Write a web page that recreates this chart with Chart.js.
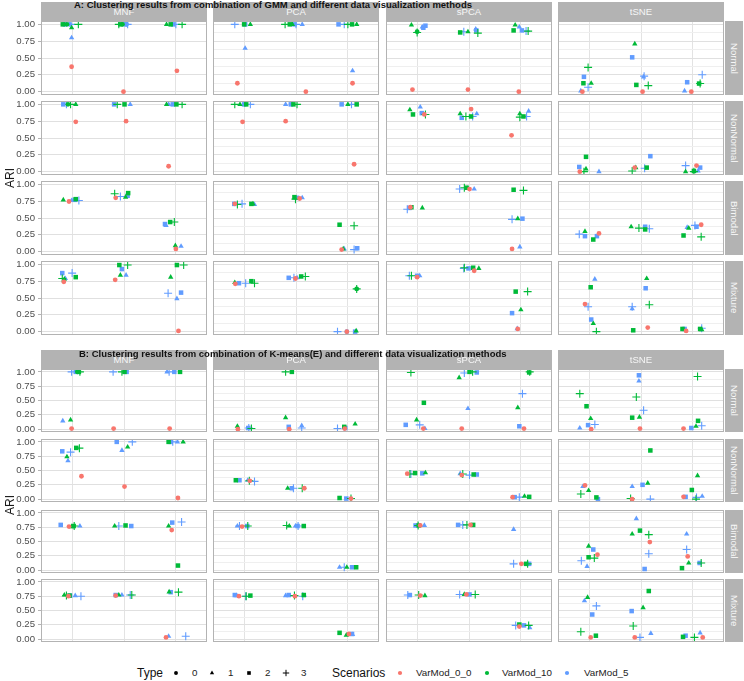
<!DOCTYPE html>
<html>
<head>
<meta charset="utf-8">
<script src="https://cdn.jsdelivr.net/npm/chart.js@4.4.1/dist/chart.umd.min.js"></script>
<style>
  body { margin: 0; background: #fff; font-family: "Liberation Sans", Arial, sans-serif; }
  #wrap { position: relative; width: 744px; height: 681px; overflow: hidden; background: #fff; }
  #wrap canvas { position: absolute; }
  .strip { position: absolute; background: #b3b3b3; color: #f7f7f7; font-size: 9.6px;
           display: flex; align-items: center; justify-content: center; }
  .vstrip { writing-mode: vertical-rl; }
  .txt { position: absolute; white-space: nowrap; line-height: 1; }
</style>
</head>
<body>
<div id="wrap"></div>
<script>
// facets, categories and legend entries
const methods = ["MNF", "PCA", "sPCA", "tSNE"];
const distributions = ["Normal", "NonNormal", "Bimodal", "Mixture"];
const scenarios = ["VarMod_0_0", "VarMod_10", "VarMod_5"];
const types = ["0", "1", "2", "3"];
const xCats = [1, 2, 3];
const yGrid = [0, 0.125, 0.25, 0.375, 0.5, 0.625, 0.75, 0.875, 1];
const yLabels = ["0.00", "0.25", "0.50", "0.75", "1.00"];
const titleA = "A: Clustering results from combination of GMM and different data visualization methods";
const titleB = "B: Clustering results from combination of K-means(E) and different data visualization methods";

// points: [x (jittered category), ARI, type index, scenario index]
const gmmNormal = {
  MNF: [[0.82,1,2,1],[0.86,1,2,2],[0.9,1,0,1],[0.95,1,0,2],[0.98,1,3,2],[0.99,0.95,1,1],[1.12,1,3,1],[0.99,0.80,1,2],[0.99,0.37,0,0],
        [1.9,1,3,1],[1.93,1,2,1],[1.97,1,0,1],[2.03,1,2,2],[2.0,1,1,2],[2.05,1,0,2],[2.07,1,3,2],[1.99,0,0,0],
        [2.82,1,1,1],[2.9,1,2,1],[2.95,1,2,2],[3.0,1,3,2],[3.12,1,3,1],[3.02,0.31,0,0]],
  PCA: [[0.82,1,3,2],[1.0,1,2,1],[1.02,1,2,2],[1.12,1,1,1],[1.02,0.645,1,2],[0.87,0.125,0,0],
        [1.79,1,3,1],[1.88,1,2,1],[1.93,1,1,1],[1.97,1,2,2],[2.0,1,3,2],[2.12,1,1,2],[2.19,0,0,0],
        [2.82,1,2,2],[2.93,1,3,2],[3.0,1,3,1],[3.08,1,2,1],[3.17,1,1,1],[3.09,0.31,1,2],[3.09,0.125,0,0]],
  sPCA: [[0.89,0.99,1,1],[1.0,0.89,0,1],[1.0,0.88,3,1],[1.1,0.96,1,2],[1.12,0.95,2,2],[1.16,0.98,2,2],[0.91,0.03,0,0],
         [1.83,0.88,2,1],[1.9,0.89,3,2],[1.98,0.89,1,1],[2.13,0.93,1,2],[2.14,0.91,2,2],[2.17,0.87,3,1],[1.98,0.03,0,0],
         [2.86,0.91,2,1],[2.89,0.99,1,1],[2.97,0.96,1,2],[3.02,0.91,2,2],[3.1,0.9,3,2],[3.14,0.90,3,1],[2.96,0,0,0]],
  tSNE: [[0.98,0.36,3,1],[0.9,0.22,2,2],[0.89,0.125,2,1],[1.04,0.125,1,1],[0.98,0.065,3,2],[0.84,0.01,1,2],[0.87,0,0,0],
         [1.88,0.71,1,1],[1.83,0.51,2,2],[2.05,0.22,1,2],[2.06,0.23,3,2],[1.91,0.10,2,1],[2.14,0.09,3,1],[2.03,0,0,0],
         [3.18,0.25,3,2],[2.89,0.14,2,2],[3.12,0.12,2,1],[3.14,0.12,3,1],[2.84,0.01,1,2],[2.97,0,0,0]]
};
const gmmNonNormal = {
  MNF: [[0.83,1,2,2],[0.89,1,3,2],[0.92,1,0,1],[0.97,1,3,1],[1.07,1,1,1],[1.07,0.74,0,0],
        [1.81,1,2,2],[1.87,1,3,1],[2.01,1,2,1],[2.12,1,1,2],[2.04,0.75,0,0],
        [2.82,1,1,1],[2.86,1,1,2],[2.94,1,2,2],[3.01,1,2,1],[3.12,1,3,1],[2.86,0.08,0,0]],
  PCA: [[0.82,1,3,1],[0.92,1,1,1],[1.0,1,2,2],[1.04,1,2,1],[1.12,1,3,2],[0.97,0.74,0,0],
        [1.8,1,1,2],[1.9,1,2,2],[1.95,1,2,1],[2.02,1,3,1],[1.8,0.75,0,0],
        [2.88,1,2,2],[3.0,1,1,1],[3.07,1,3,2],[3.17,1,2,1],[3.12,0.11,0,0]],
  sPCA: [[0.86,0.92,1,1],[0.92,0.85,2,1],[1.06,0.96,1,2],[1.09,0.87,2,2],[1.14,0.85,0,0],[1.16,0.85,3,1],
         [1.83,0.86,1,1],[1.86,0.80,2,2],[1.94,0.82,3,1],[2.04,0.82,2,1],[2.07,0.82,3,2],[2.15,0.86,1,2],[2.04,0.93,0,0],
         [2.98,0.86,1,1],[2.98,0.81,3,1],[3.05,0.82,2,1],[3.11,0.82,3,2],[3.15,0.90,1,2],[2.82,0.54,0,0]],
  tSNE: [[0.94,0.22,2,1],[0.81,0.07,2,2],[0.94,0.04,1,1],[0.82,0,0,0],[0.9,0,3,1],[1.19,0,1,2],
         [2.18,0.23,2,2],[1.88,0.06,0,0],[1.9,0.06,1,1],[2.11,0.06,2,1],[2.07,0.05,3,2],[1.83,0.01,3,1],
         [2.86,0.09,3,2],[3.07,0.09,0,0],[3.14,0.06,2,2],[2.86,0,1,1],[3.02,0.01,2,1],[3.02,0,3,1],[3.1,0.01,1,2]]
};
const gmmBimodal = {
  MNF: [[0.83,0.77,1,1],[0.94,0.745,0,0],[0.99,0.76,1,2],[1.05,0.77,2,2],[1.07,0.78,2,1],[1.13,0.76,3,2],
        [1.82,0.86,3,1],[1.84,0.80,0,0],[1.93,0.82,3,2],[2.03,0.81,1,1],[2.07,0.83,2,2],[2.08,0.87,2,1],
        [2.79,0.41,2,2],[2.81,0.39,1,2],[2.89,0.44,2,1],[2.97,0.44,3,1],[2.99,0.09,1,1],[3.0,0.04,0,0],[3.10,0.08,1,2]],
  PCA: [[0.81,0.71,2,2],[0.82,0.71,0,0],[0.87,0.70,3,1],[0.96,0.71,3,2],[1.14,0.71,2,1],[1.17,0.71,1,1],[1.2,0.70,1,2],
        [1.97,0.81,2,1],[1.99,0.78,3,1],[2.02,0.80,2,2],[2.07,0.79,0,0],[2.12,0.80,1,2],
        [2.84,0.40,2,1],[3.12,0.385,3,1],[2.88,0.03,0,0],[2.91,0.04,1,1],[2.93,0.04,1,2],[3.12,0.03,3,2],[3.18,0.05,2,2]],
  sPCA: [[0.81,0.63,3,2],[0.85,0.65,2,2],[0.87,0.66,0,0],[0.89,0.66,2,1],[1.1,0.65,1,1],
         [1.82,0.93,3,2],[1.91,0.95,3,1],[1.95,0.95,2,1],[1.98,0.94,1,1],[2.01,0.93,0,0],[2.1,0.93,1,2],
         [2.86,0.92,2,1],[3.05,0.91,3,1],[2.83,0.48,3,2],[2.94,0.49,1,1],[3.03,0.49,2,2],[2.83,0.04,0,0],[2.98,0.07,1,2]],
  tSNE: [[0.81,0.26,3,2],[0.92,0.30,1,1],[0.92,0.23,2,2],[1.08,0.18,2,1],[1.15,0.23,2,2],[1.19,0.27,0,0],
         [1.81,0.37,1,1],[1.96,0.35,3,1],[2.08,0.37,2,2],[2.08,0.33,2,1],[2.16,0.34,3,2],
         [2.89,0.36,1,2],[2.92,0.35,1,1],[3.04,0.39,3,2],[3.07,0.37,2,2],[3.16,0.40,0,0],[2.82,0.24,2,1],[3.16,0.22,3,1]]
};
const gmmMixture = {
  MNF: [[0.81,0.87,2,2],[1.0,0.87,3,2],[0.81,0.79,3,1],[0.85,0.78,1,1],[0.87,0.79,1,2],[0.84,0.74,0,0],[1.07,0.81,2,1],
        [1.91,0.99,2,1],[2.07,0.99,3,1],[1.96,0.93,2,2],[1.93,0.84,1,1],[2.04,0.84,1,2],[1.83,0.77,0,0],
        [3.02,0.99,2,1],[3.15,0.99,3,1],[2.9,0.81,1,1],[2.85,0.57,3,2],[3.1,0.58,2,2],[3.02,0.49,1,2],[3.05,0.01,0,0]],
  PCA: [[0.82,0.73,1,1],[0.83,0.71,0,0],[0.9,0.72,2,2],[1.03,0.72,3,2],[1.14,0.75,2,1],[1.2,0.72,3,1],
        [1.86,0.80,2,2],[1.96,0.80,3,2],[1.99,0.79,0,0],[2.02,0.80,1,2],[2.1,0.82,2,1],[2.18,0.82,3,1],
        [3.17,0.635,0,1],[3.17,0.635,3,1],[2.8,0,3,2],[2.98,0,0,2],[2.98,0,0,0],[3.14,0,2,2],[3.16,0.01,1,1]],
  sPCA: [[0.85,0.83,3,2],[0.89,0.83,3,1],[1.0,0.83,2,2],[1.0,0.81,0,0],[1.05,0.83,1,2],
         [1.9,0.94,3,2],[1.91,0.95,3,1],[1.99,0.94,2,2],[2.08,0.95,2,1],[2.19,0.94,1,1],[2.1,0.905,0,0],
         [2.9,0.595,2,1],[3.13,0.595,3,1],[3.0,0.325,1,1],[2.83,0.275,2,2],[2.94,0.04,0,0],[2.93,0.045,1,2]],
  tSNE: [[1.11,0.78,1,2],[1.03,0.66,2,1],[0.92,0.41,0,0],[0.98,0.37,3,2],[1.04,0.18,2,2],[1.08,0.12,1,1],[1.14,0,3,1],
         [2.11,0.79,1,1],[2.09,0.645,2,2],[2.16,0.40,3,1],[1.83,0.37,3,2],[1.83,0.34,1,2],[2.13,0.06,0,0],[1.85,0.02,2,1],
         [2.8,0.04,2,1],[2.84,0.04,2,2],[2.87,0.01,0,0],[3.14,0.04,2,1],[3.17,0.05,3,2],[3.17,0.03,1,1]]
};
const kmNormal = {
  MNF: [[0.99,1,3,2],[1.07,1,2,2],[1.1,1,0,1],[1.13,1,2,1],[1.15,1,3,1],[0.82,0.145,1,2],[0.97,0.16,1,1],[0.99,0.01,0,0],
        [1.79,1,3,2],[1.96,1,3,1],[2.01,1,2,1],[2.05,1,2,2],[1.8,0.01,0,0],
        [2.83,1,1,2],[2.87,1,3,2],[2.97,1,2,2],[3.08,1,2,1],[2.88,0.01,0,0]],
  PCA: [[0.87,0.05,1,1],[0.88,0,0,0],[1.08,0.02,2,2],[1.09,0.02,3,2],[1.14,0.01,3,1],
        [1.8,1,3,1],[1.92,1,2,1],[1.8,0.20,1,1],[1.86,0.04,2,2],[1.87,0,0,0],[2.11,0.06,1,2],[2.11,0.02,3,2],
        [2.8,0.01,3,2],[2.93,0.04,2,1],[2.95,0.02,2,2],[2.94,0.01,0,0],[3.14,0.09,1,1]],
  sPCA: [[0.88,0.99,3,1],[1.13,0.46,2,1],[0.99,0.16,1,1],[0.78,0.075,2,2],[1.05,0.075,3,2],[1.12,0.01,0,0],[1.15,0.01,1,2],
         [1.81,0.90,1,1],[1.91,0.98,3,2],[2.01,1,2,1],[2.07,1,3,1],[2.15,0.99,2,2],[1.98,0.36,1,2],[1.86,0.01,0,0],
         [3.16,0.99,2,1],[3.17,1,3,1],[3.03,0.62,3,2],[2.94,0.375,1,1],[2.97,0.05,2,2],[3.06,0.01,0,0]],
  tSNE: [[0.82,0.62,3,1],[0.95,0.40,2,1],[1.03,0.185,1,1],[1.11,0.08,3,2],[0.98,0.07,2,2],[0.82,0.02,1,2],[1.04,0,0,0],
         [1.96,0.94,2,2],[1.96,0.84,1,2],[1.91,0.56,3,1],[2.05,0.33,3,2],[1.83,0.20,2,1],[1.97,0.21,1,1],[1.98,0.01,0,0],
         [3.09,0.92,3,1],[3.1,0.145,2,1],[3.17,0.06,3,2],[3.06,0.05,1,1],[2.97,0.02,2,2],[2.82,0.01,0,0]]
};
const kmNonNormal = {
  MNF: [[0.81,0.835,2,2],[0.97,0.82,3,2],[1.08,0.895,2,1],[1.14,0.89,3,1],[0.9,0.74,1,1],[0.92,0.67,1,2],[1.18,0.40,0,0],
        [1.86,1,2,2],[2.16,1,3,2],[1.96,0.85,1,2],[2.07,0.91,1,1],[2.01,0.22,0,0],
        [2.86,1,2,1],[2.9,1,2,2],[2.94,1,3,2],[3.03,1,1,2],[3.14,1,1,1],[3.04,0.02,0,0]],
  PCA: [[0.84,0.33,2,1],[0.91,0.33,2,2],[1.07,0.33,1,2],[1.1,0.32,3,1],[1.11,0.32,0,0],[1.2,0.31,3,2],
        [1.84,0.19,1,1],[1.92,0.19,2,2],[1.95,0.19,3,2],[2.12,0.19,3,1],[2.16,0.19,0,0],
        [2.84,0.02,2,1],[2.97,0.01,2,2],[3.06,0.01,3,1],[3.06,0.01,0,0]],
  sPCA: [[0.81,0.445,0,0],[0.86,0.44,3,1],[0.88,0.44,3,2],[0.96,0.455,2,1],[1.1,0.45,2,2],[1.16,0.46,1,1],
         [1.83,0.445,1,2],[1.86,0.42,0,0],[1.88,0.44,3,1],[2.01,0.42,3,2],[2.09,0.43,2,1],[2.15,0.43,2,2],
         [2.84,0.035,0,0],[2.88,0.035,2,2],[2.97,0.035,3,2],[3.07,0.05,1,1],[3.16,0.04,2,1]],
  tSNE: [[0.88,0.22,1,2],[0.92,0.24,0,0],[0.99,0.15,1,1],[0.84,0.09,3,1],[1.14,0.03,2,1],[1.17,0,2,2],
         [2.18,0.85,2,1],[2.13,0.28,1,1],[2.03,0.25,2,2],[1.83,0.22,1,2],[1.8,0.01,3,1],[1.83,0,0,0],[2.18,0,3,2],
         [3.09,0.41,1,1],[2.98,0.16,2,1],[2.82,0.04,0,0],[2.86,0.04,2,2],[3.07,0.03,3,2],[3.18,0.05,1,2],[3.06,0,3,1]]
};
const kmBimodal = {
  MNF: [[0.78,0.79,2,2],[0.94,0.76,0,0],[0.99,0.76,1,1],[1.03,0.77,2,1],[1.04,0.77,3,1],[1.15,0.77,1,2],
        [1.82,0.77,1,1],[1.9,0.77,3,2],[2.03,0.78,2,1],[2.14,0.77,2,2],
        [2.86,0.77,1,1],[2.93,0.83,2,2],[3.11,0.84,3,2],[2.92,0.70,0,0],[3.04,0.08,2,1]],
  PCA: [[0.87,0.77,1,2],[0.91,0.77,3,2],[0.96,0.76,0,0],[1.06,0.77,2,2],[1.07,0.77,3,1],
        [1.82,0.78,3,1],[1.87,0.77,1,1],[1.99,0.77,1,2],[2.03,0.77,2,2],[2.04,0.77,3,2],[2.15,0.77,2,1],
        [2.84,0.05,1,2],[2.93,0.05,3,2],[2.98,0.05,1,1],[3.08,0.05,2,2],[3.16,0.05,2,1]],
  sPCA: [[0.97,0.78,2,2],[1.02,0.78,3,1],[1.03,0.78,2,1],[1.06,0.78,0,0],[1.14,0.78,1,2],
         [1.79,0.79,2,2],[1.88,0.79,3,2],[1.96,0.79,3,1],[2.03,0.79,0,0],[2.08,0.79,2,1],
         [2.86,0.71,1,2],[2.86,0.11,3,2],[3.01,0.11,0,0],[3.1,0.11,2,1],[3.13,0.11,3,1],[3.16,0.11,2,2]],
  tSNE: [[0.99,0.42,1,1],[1.08,0.36,2,2],[1.16,0.27,0,0],[0.99,0.225,2,1],[1.1,0.21,3,1],[0.85,0.165,3,2],[0.96,0.065,1,2],
         [1.91,0.90,1,2],[1.98,0.69,2,1],[1.83,0.63,1,1],[2.15,0.62,3,1],[2.17,0.49,0,0],[2.15,0.285,3,2],[2.07,0.02,2,2],
         [2.88,0.63,1,2],[2.88,0.36,3,2],[2.9,0.24,0,0],[2.92,0.125,1,1],[2.79,0.035,2,1],[3.13,0.125,2,2],[3.16,0.125,3,1]]
};
const kmMixture = {
  MNF: [[0.85,0.77,1,1],[0.89,0.76,3,1],[0.93,0.75,0,0],[0.95,0.76,2,1],[0.96,0.76,2,2],[1.06,0.76,1,2],[1.17,0.75,3,2],
        [1.84,0.76,0,0],[1.84,0.77,2,2],[1.9,0.77,1,1],[1.96,0.77,1,2],[2.12,0.77,3,2],[2.15,0.77,3,1],
        [2.87,0.825,1,1],[2.9,0.82,2,2],[3.05,0.82,3,1],[2.81,0.03,0,0],[2.86,0.05,1,2],[3.19,0.05,3,2]],
  PCA: [[0.82,0.77,2,2],[0.86,0.76,1,2],[0.9,0.75,0,0],[1.03,0.75,3,2],[1.04,0.75,3,1],[1.12,0.76,2,1],
        [1.8,0.76,1,2],[1.86,0.77,2,2],[1.97,0.76,3,1],[1.98,0.75,0,0],[2.13,0.75,3,2],[2.15,0.77,2,1],
        [2.84,0.11,2,1],[2.97,0.07,1,1],[3.02,0.09,0,0],[3.08,0.09,2,2],[3.09,0.08,1,2]],
  sPCA: [[0.82,0.77,3,2],[0.86,0.77,2,2],[1.03,0.77,3,1],[1.06,0.76,0,0],[1.15,0.76,1,1],
         [1.82,0.78,3,2],[1.91,0.78,1,1],[1.95,0.78,0,0],[2.01,0.78,2,2],[2.12,0.78,3,1],
         [2.97,0.255,2,1],[2.9,0.24,3,2],[2.97,0.22,0,0],[3.06,0.24,2,2],[3.15,0.24,3,1],[3.17,0.2,1,2]],
  tSNE: [[0.97,0.73,1,1],[0.91,0.67,1,2],[1.14,0.58,3,2],[1.06,0.43,2,2],[0.84,0.13,3,1],[1.13,0.06,2,1],[1.03,0.03,0,0],
         [2.15,0.84,2,1],[2.04,0.55,1,1],[1.82,0.49,2,2],[1.85,0.23,3,1],[2.19,0.10,1,2],[1.88,0.03,0,0],[1.98,0.03,3,2],
         [3.14,0.11,1,2],[2.86,0.06,2,2],[2.81,0.04,2,1],[3.03,0.03,3,1],[3.19,0.03,0,0]]
};

const scenColors = ["#F8766D", "#00BA38", "#619CFF"];
const shapeStyle = ["circle", "triangle", "rect", "cross"];
const shapeRadius = [2.4, 3.1, 3.2, 4];
const fontFam = '"Liberation Sans", Arial, sans-serif';

const wrap = document.getElementById("wrap");

const panelBorder = {
  id: "panelBorder",
  afterDraw(chart) {
    const a = chart.chartArea, c = chart.ctx;
    c.save();
    c.strokeStyle = "#b3b3b3";
    c.lineWidth = 1;
    c.strokeRect(Math.round(a.left) + 0.5, Math.round(a.top) + 0.5, Math.round(a.right - a.left) - 1, Math.round(a.bottom - a.top) - 1);
    c.restore();
  }
};

const isMajor = v => Math.abs(v * 4 - Math.round(v * 4)) < 1e-6;

function makeFacet(pts, left, top, w, h, withAxis) {
  const pad = withAxis ? 7 : 0;
  const axisW = withAxis ? left : 0;
  const cv = document.createElement("canvas");
  cv.width = w + axisW;
  cv.height = h + 2 * pad;
  cv.style.left = (left - axisW) + "px";
  cv.style.top = (top - pad) + "px";
  wrap.appendChild(cv);

  new Chart(cv, {
    type: "scatter",
    data: {
      datasets: scenarios.map((s, si) => ({
        label: s,
        data: pts.filter(p => p[3] === si).map(p => ({ x: p[0], y: p[1], t: p[2] })),
        backgroundColor: scenColors[si],
        borderColor: scenColors[si],
        pointStyle: c => shapeStyle[c.raw ? c.raw.t : 0],
        pointRadius: c => shapeRadius[c.raw ? c.raw.t : 0],
        pointBorderWidth: c => (c.raw && c.raw.t === 3 ? 1.1 : 0)
      }))
    },
    options: {
      responsive: false,
      animation: false,
      devicePixelRatio: 1,
      events: [],
      layout: { autoPadding: false, padding: { top: pad, bottom: pad, left: 0, right: 0 } },
      plugins: { legend: { display: false }, tooltip: { enabled: false } },
      scales: {
        x: {
          type: "linear", min: 0.4, max: 3.6,
          afterBuildTicks: s => { s.ticks = xCats.map(v => ({ value: v })); },
          ticks: { display: false },
          grid: { color: "#e3e3e3", lineWidth: 1, drawTicks: false },
          border: { display: false },
          afterFit: s => { s.height = 0; s.paddingLeft = 0; s.paddingRight = 0; }
        },
        y: {
          type: "linear", min: -0.05, max: 1.05,
          afterBuildTicks: s => { s.ticks = yGrid.map(v => ({ value: v })); },
          ticks: {
            display: withAxis,
            padding: 3,
            color: "#4d4d4d",
            font: { family: fontFam, size: 9.6 },
            callback: v => (isMajor(v) ? yLabels[Math.round(v * 4)] : "")
          },
          grid: {
            color: c => (c.tick && isMajor(c.tick.value) ? "#e0e0e0" : "#efefef"),
            lineWidth: 1,
            drawTicks: withAxis,
            tickLength: 3,
            tickColor: c => (c.tick && isMajor(c.tick.value) ? "#b3b3b3" : "rgba(0,0,0,0)")
          },
          border: { display: false },
          afterFit: s => { s.width = axisW; s.paddingTop = 0; s.paddingBottom = 0; }
        }
      }
    },
    plugins: [panelBorder]
  });
}

function addDiv(cls, text, style) {
  const d = document.createElement("div");
  d.className = cls;
  d.textContent = text;
  Object.assign(d.style, style);
  wrap.appendChild(d);
  return d;
}

const colLeft = [41, 213, 386, 558];
const colW = 166;

const groups = [
  { title: titleA, titleLeft: 74, titleTop: 0, stripTop: 2, rowTops: [21, 101, 181, 261], rowH: 74, ariY: 178,
    rows: [gmmNormal, gmmNonNormal, gmmBimodal, gmmMixture] },
  { title: titleB, titleLeft: 79, titleTop: 349, stripTop: 350, rowTops: [369, 439, 510, 579], rowH: 63, ariY: 505,
    rows: [kmNormal, kmNonNormal, kmBimodal, kmMixture] }
];

groups.forEach(g => {
  methods.forEach((m, ci) => {
    addDiv("strip", m, { left: colLeft[ci] + "px", top: g.stripTop + "px", width: colW + "px", height: (g.rowTops[0] - g.stripTop) + "px" });
  });
  distributions.forEach((d, ri) => {
    addDiv("strip vstrip", d, { left: "725px", top: g.rowTops[ri] + "px", width: "18px", height: g.rowH + "px" });
    methods.forEach((m, ci) => {
      makeFacet(g.rows[ri][m], colLeft[ci], g.rowTops[ri], colW, g.rowH, ci === 0);
    });
  });
  addDiv("txt", g.title, { left: g.titleLeft + "px", top: g.titleTop + "px", fontSize: "9.5px", fontWeight: "bold", color: "#111", zIndex: 5 });
  addDiv("txt", "ARI", { left: "-2px", top: (g.ariY - 6) + "px", width: "24px", textAlign: "center", fontSize: "12px", color: "#1a1a1a", transform: "rotate(-90deg)" });
});

// legend
const legendY = 673;
addDiv("txt", "Type", { left: "137px", top: (legendY - 6) + "px", fontSize: "12px", color: "#111" });
addDiv("txt", "Scenarios", { left: "332px", top: (legendY - 6) + "px", fontSize: "12px", color: "#111" });
const typeKeyX = [176, 212, 249, 286];
const typeLabelX = [192, 228, 265, 301];
const scenKeyX = [400, 487, 567];
const scenLabelX = [416, 502, 584];
types.forEach((t, i) => addDiv("txt", t, { left: typeLabelX[i] + "px", top: (legendY - 5) + "px", fontSize: "9.8px", color: "#222" }));
scenarios.forEach((s, i) => addDiv("txt", s, { left: scenLabelX[i] + "px", top: (legendY - 5) + "px", fontSize: "9.8px", color: "#222" }));

const lg = document.createElement("canvas");
lg.width = 744; lg.height = 20;
lg.style.left = "0px"; lg.style.top = (legendY - 10) + "px";
wrap.appendChild(lg);
const lctx = lg.getContext("2d");
const drawKey = (style, r, color, x, bw) => {
  lctx.fillStyle = color; lctx.strokeStyle = color; lctx.lineWidth = bw;
  Chart.helpers.drawPoint(lctx, { pointStyle: style, radius: r, rotation: 0, borderWidth: bw }, x, 10);
};
types.forEach((t, i) => drawKey(shapeStyle[i], shapeRadius[i] * 0.8, "#000", typeKeyX[i], i === 3 ? 1 : 0));
scenarios.forEach((s, i) => drawKey("circle", 2.1, scenColors[i], scenKeyX[i], 0));
</script>
</body>
</html>
